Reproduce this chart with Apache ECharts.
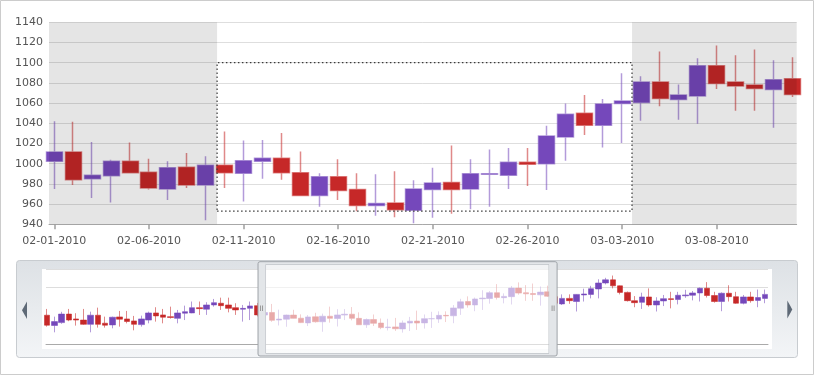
<!DOCTYPE html>
<html>
<head>
<meta charset="utf-8">
<script src="https://cdn.jsdelivr.net/npm/echarts@6/dist/echarts.min.js"></script>
<style>
html,body{margin:0;padding:0;background:#fff;}
#c{width:814px;height:375px;}
</style>
</head>
<body>
<div id="c"></div>
<script>
// ---- data ----
const dates = ['02-01-2010','02-02-2010','02-03-2010','02-04-2010','02-05-2010','02-06-2010','02-07-2010','02-08-2010','02-09-2010','02-10-2010',
  '02-11-2010','02-12-2010','02-13-2010','02-14-2010','02-15-2010','02-16-2010','02-17-2010','02-18-2010','02-19-2010','02-20-2010',
  '02-21-2010','02-22-2010','02-23-2010','02-24-2010','02-25-2010','02-26-2010','02-27-2010','02-28-2010','03-01-2010','03-02-2010',
  '03-03-2010','03-04-2010','03-05-2010','03-06-2010','03-07-2010','03-08-2010','03-09-2010','03-10-2010','03-11-2010','03-12-2010'];
const mainOpen  = [1002.5,1011.5,985,988,1002.5,991.5,975,996.5,979,998.5, 990.5,1002.5,1005.5,991,968.5,987,974.5,958.5,961,954, 974.5,981.5,975,989.5,988.5,1001.5,1000,1026.5,1050,1038, 1059.5,1060.5,1081,1063.5,1067,1097,1081,1078,1073.5,1084];
const mainClose = [1011.5,984,988.5,1002.5,991,976,996,979,998.5,991, 1003,1005.5,991,968.5,987,973.5,958.5,960.5,954.5,975, 981,974.5,990,990,1001.5,999.5,1027.5,1049,1038,1059, 1062,1081,1064.5,1068,1097,1079.5,1077,1074.5,1083,1068.5];
const mainLow   = [975,979,966,961.5,990.5,974.5,964,976,944,976, 962.5,985,984,968,957.5,964,953,948.5,947,941, 946.5,950.5,955,957.5,975,978,974,1003,1028.5,1016, 1020.5,1042.5,1057,1043.5,1039.5,1074,1052.5,1052.5,1035.5,1066];
const mainHigh  = [1042,1041.5,1021.5,1004,1021,1005,1002.5,1010.5,1007.5,1032, 1023,1023.5,1030.5,1012,990.5,1004.5,990.5,989.5,992.5,983.5, 996,1018,1004.5,1014,1015.5,1015.5,1037.5,1059.5,1068,1064, 1089.5,1086.5,1111,1078.5,1104.5,1117,1107.5,1113,1102.5,1105.5];
// navigator: candles before and after the main range  [open, close, low, high]
const navBefore = [
  [1002,967,962,1024],[966,979.5,942,997],[976,1006,972,1014],[1006,985,981,1024],[989,985,965.5,1009],
  [985,970,968,1024],[970,1002,942,1014.5],[1002,970,958.5,1028.5],[974,967,958.5,997],[968,995,956,997],
  [996,988,962,1017],[989,980,973.5,1017],[982,970,949,999.5],[969,989,962,1000.5],[985,1010,973.5,1014.5],
  [1010,999.5,979.5,1030],[1003,995,973.5,1024],[997,994,990,1032],[991,1010,973.5,1020.5],[1009,1014.5,985,1035.5],
  [1010,1028.5,1009,1050],[1028.5,1025,1003,1050],[1023,1038,1003,1047.5],[1038,1046,1032,1059],[1044,1035.5,1020.5,1063.5],
  [1038,1026,1012,1063.5],[1028.5,1020.5,1003,1044],[1023,1026,979.5,1038],[1026,1034.5,985,1050],[1035.5,1003,998,1045]
];
const navAfter = [
  [1067,1044,1040,1075],[1041.5,1061,1038,1075],[1061,1053,1042,1075],[1050,1075,1015,1076],[1073,1076.5,1050,1095],
  [1075,1095,1061,1105],[1094,1115,1061,1128],[1115,1126,1110,1133],[1126,1105,1096,1141],[1105,1082,1075,1106],
  [1082,1053,1050,1085],[1053,1046,1030,1069],[1047,1066,1024,1081],[1066,1038,1032,1096],[1038,1052,1015,1065],
  [1052,1060,1034,1073],[1060,1057,1026,1084],[1057,1072,1040,1084],[1070,1073,1063,1091],[1072,1080,1054,1087],
  [1080,1096.5,1050,1099],[1096.5,1071,1064,1118],[1071,1050,1046,1084],[1050,1079,1016,1082],[1079,1067,1050,1107],
  [1067,1044,1042,1084],[1044,1066,1040,1073],[1066,1053,1046,1084],[1054,1064,1030,1092],[1061,1075,1044,1092]
];
const labelDays = [0,5,10,15,20,25,30,35];
const mainXRange = [-0.28, 39.22];
const mainYRange = [940, 1140];
const mainYStep = 20;
const navXRange = [-0.17, 99.41];
const navYRange = [900, 1164];
const navYStep = 200;
const shadeLeft = [-0.28, 8.6];
const shadeRight = [30.52, 39.22];
const boxX = [8.6, 30.52];
const boxY = [953, 1100];

// ---- styles ----
const UP = '#7548bb', DOWN = '#c62828';
const UPB = 'rgba(117,72,187,0.55)', DOWNB = 'rgba(198,40,40,0.55)';
const FONT = 'DejaVu Sans';

const mainData = dates.map((d, i) => [i, mainOpen[i], mainClose[i], mainLow[i], mainHigh[i]]);
const navRows = navBefore.concat(dates.map((d, i) => [mainOpen[i], mainClose[i], mainLow[i], mainHigh[i]]), navAfter);
const navData = navRows.map((r, k) => [k, r[0], r[1], r[2], r[3]]);
const offset = navBefore.length;

const chart = echarts.init(document.getElementById('c'), null, {renderer: 'canvas'});
chart.setOption({
  animation: false,
  backgroundColor: 'transparent',
  grid: [
    {left: 49, right: 17.3, top: 22.3, height: 202, outerBoundsMode: 'none', containLabel: false},
    {left: 46, right: 46, top: 269, height: 75.3, outerBoundsMode: 'none', containLabel: false}
  ],
  xAxis: [
    {type: 'value', gridIndex: 0, min: mainXRange[0], max: mainXRange[1],
     axisLine: {show: true, onZero: false, lineStyle: {color: '#a8a8a8', width: 1}},
     axisTick: {show: true, customValues: labelDays, length: 5, lineStyle: {color: '#a0a0a0', width: 1.5}},
     axisLabel: {show: true, customValues: labelDays, margin: 11, color: '#555', fontFamily: FONT, fontSize: 11,
                 formatter: v => dates[Math.round(v)] || ''},
     splitLine: {show: false}},
    {type: 'value', gridIndex: 1, min: navXRange[0], max: navXRange[1],
     axisLine: {show: true, onZero: false, lineStyle: {color: '#aaaaaa', width: 1}},
     axisTick: {show: false}, axisLabel: {show: false}, splitLine: {show: false}}
  ],
  yAxis: [
    {type: 'value', gridIndex: 0, min: mainYRange[0], max: mainYRange[1], interval: mainYStep,
     axisLine: {show: false}, axisTick: {show: false},
     axisLabel: {margin: 6, color: '#555', fontFamily: FONT, fontSize: 11, formatter: v => String(v)},
     splitLine: {show: true, lineStyle: {color: '#dedede', width: 1}}},
    {type: 'value', gridIndex: 1, min: navYRange[0], max: navYRange[1], interval: navYStep,
     axisLine: {show: false}, axisTick: {show: false}, axisLabel: {show: false},
     splitLine: {show: true, lineStyle: {color: '#dddddd', width: 1}}}
  ],
  series: [
    {type: 'candlestick', xAxisIndex: 0, yAxisIndex: 0, data: mainData, barWidth: 16.5, clip: true,
     itemStyle: {color: UP, color0: DOWN, borderColor: UPB, borderColor0: DOWNB, borderWidth: 1.5},
     markArea: {silent: true, z: 5, data: [
       [{xAxis: shadeLeft[0], yAxis: mainYRange[0], itemStyle: {color: 'rgba(0,0,0,0.1)'}}, {xAxis: shadeLeft[1], yAxis: mainYRange[1]}],
       [{xAxis: shadeRight[0], yAxis: mainYRange[0], itemStyle: {color: 'rgba(0,0,0,0.1)'}}, {xAxis: shadeRight[1], yAxis: mainYRange[1]}],
       [{xAxis: boxX[0], yAxis: boxY[0], itemStyle: {color: 'rgba(0,0,0,0)', borderColor: '#3a3a3a', borderWidth: 1.2, borderType: [1.5, 2.5]}}, {xAxis: boxX[1], yAxis: boxY[1]}]
     ]}},
    {type: 'candlestick', xAxisIndex: 1, yAxisIndex: 1, data: navData, barWidth: 6, clip: true,
     itemStyle: {color: UP, color0: DOWN, borderColor: UPB, borderColor0: DOWNB, borderWidth: 1}}
  ]
});

// navigator chrome, positioned through the navigator x scale
const L = chart.convertToPixel({xAxisIndex: 1}, offset + mainXRange[0]);
const R = chart.convertToPixel({xAxisIndex: 1}, offset + mainXRange[1]);
const oL = L - 4.7, iL = L + 2.8, iR = R, oR = R + 8;
const fTop = 261.7, fBot = 356, iTop = 264.3, iBot = 353.7;
const band = '#e3e6e9';
chart.setOption({
  graphic: {elements: [
    {type: 'rect', z: -30, silent: true, shape: {x: 0.5, y: 0.5, width: 813, height: 374}, style: {fill: '#fff', stroke: '#cccccc', lineWidth: 1}},
    {type: 'rect', z: -20, silent: true, shape: {x: 16.5, y: 260.5, width: 781, height: 97, r: 3},
     style: {fill: new echarts.graphic.LinearGradient(0, 0, 0, 1, [{offset: 0, color: '#dde1e5'}, {offset: 1, color: '#f3f5f7'}]), stroke: '#c8ccd0', lineWidth: 1}},
    {type: 'rect', z: -19, silent: true, shape: {x: 42, y: 269, width: 730, height: 80}, style: {fill: '#fff'}},
    {type: 'polygon', z: 20, silent: true, shape: {points: [[22, 310.3], [27, 301.5], [27, 319]]}, style: {fill: '#5e6976'}},
    {type: 'polygon', z: 20, silent: true, shape: {points: [[792.3, 309.5], [787.3, 300.5], [787.3, 318.5]]}, style: {fill: '#5e6976'}},
    {type: 'rect', z: 20, silent: true, shape: {x: iL, y: iTop, width: iR - iL, height: iBot - iTop}, style: {fill: 'rgba(255,255,255,0.6)', stroke: '#b4b9be', lineWidth: 1}},
    {type: 'rect', z: 20, silent: true, shape: {x: oL, y: fTop, width: iL - oL, height: fBot - fTop}, style: {fill: band}},
    {type: 'rect', z: 20, silent: true, shape: {x: iR, y: fTop, width: oR - iR, height: fBot - fTop}, style: {fill: band}},
    {type: 'rect', z: 20, silent: true, shape: {x: iL, y: fTop, width: iR - iL, height: iTop - fTop}, style: {fill: band}},
    {type: 'rect', z: 20, silent: true, shape: {x: iL, y: iBot, width: iR - iL, height: fBot - iBot}, style: {fill: band}},
    {type: 'rect', z: 21, silent: true, shape: {x: oL, y: fTop, width: oR - oL, height: fBot - fTop, r: 2}, style: {fill: 'none', stroke: '#9ea3a8', lineWidth: 1}},
    {type: 'line', z: 22, silent: true, shape: {x1: oL + 2.5, y1: 305.5, x2: oL + 2.5, y2: 311}, style: {stroke: '#9a9a9a', lineWidth: 1}},
    {type: 'line', z: 22, silent: true, shape: {x1: oL + 4.5, y1: 305.5, x2: oL + 4.5, y2: 311}, style: {stroke: '#9a9a9a', lineWidth: 1}},
    {type: 'line', z: 22, silent: true, shape: {x1: iR + 3, y1: 305.5, x2: iR + 3, y2: 311}, style: {stroke: '#9a9a9a', lineWidth: 1}},
    {type: 'line', z: 22, silent: true, shape: {x1: iR + 5, y1: 305.5, x2: iR + 5, y2: 311}, style: {stroke: '#9a9a9a', lineWidth: 1}}
  ]}
});
</script>
</body>
</html>
